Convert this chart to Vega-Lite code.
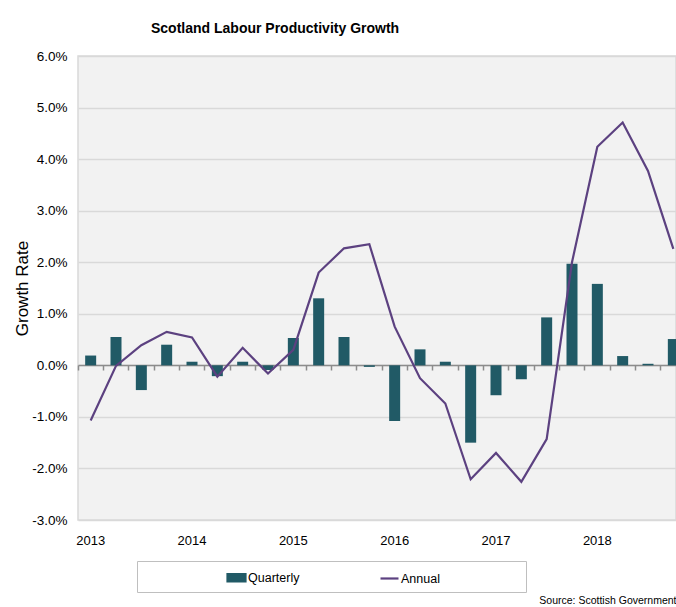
{
  "$schema": "https://vega.github.io/schema/vega-lite/v6.json",
  "width": 598,
  "height": 464,
  "autosize": {"type": "none"},
  "padding": {"left": 78, "top": 56, "right": 0, "bottom": 87},
  "background": "white",
  "title": {
    "text": "Scotland Labour Productivity Growth",
    "anchor": "start",
    "frame": "group",
    "dx": 73,
    "offset": 2,
    "baseline": "alphabetic",
    "font": "Liberation Sans",
    "fontSize": 14,
    "fontWeight": "bold",
    "color": "black"
  },
  "data": {
    "values": [
      {"q": "2013Q1", "quarterly": 0.19, "annual": -1.07},
      {"q": "2013Q2", "quarterly": 0.55, "annual": -0.01},
      {"q": "2013Q3", "quarterly": -0.48, "annual": 0.39},
      {"q": "2013Q4", "quarterly": 0.40, "annual": 0.65},
      {"q": "2014Q1", "quarterly": 0.07, "annual": 0.54},
      {"q": "2014Q2", "quarterly": -0.21, "annual": -0.22},
      {"q": "2014Q3", "quarterly": 0.07, "annual": 0.34},
      {"q": "2014Q4", "quarterly": -0.09, "annual": -0.16},
      {"q": "2015Q1", "quarterly": 0.53, "annual": 0.30},
      {"q": "2015Q2", "quarterly": 1.30, "annual": 1.80},
      {"q": "2015Q3", "quarterly": 0.55, "annual": 2.27},
      {"q": "2015Q4", "quarterly": -0.03, "annual": 2.35},
      {"q": "2016Q1", "quarterly": -1.08, "annual": 0.75},
      {"q": "2016Q2", "quarterly": 0.31, "annual": -0.25},
      {"q": "2016Q3", "quarterly": 0.07, "annual": -0.74},
      {"q": "2016Q4", "quarterly": -1.50, "annual": -2.21},
      {"q": "2017Q1", "quarterly": -0.58, "annual": -1.70},
      {"q": "2017Q2", "quarterly": -0.27, "annual": -2.26},
      {"q": "2017Q3", "quarterly": 0.93, "annual": -1.43},
      {"q": "2017Q4", "quarterly": 1.97, "annual": 2.00},
      {"q": "2018Q1", "quarterly": 1.58, "annual": 4.24},
      {"q": "2018Q2", "quarterly": 0.18, "annual": 4.71},
      {"q": "2018Q3", "quarterly": 0.03, "annual": 3.77},
      {"q": "2018Q4", "quarterly": 0.51, "annual": 2.26}
    ]
  },
  "layer": [
    {
      "mark": {"type": "bar", "size": 11},
      "encoding": {
        "x": {
          "field": "q",
          "type": "ordinal",
          "sort": null,
          "scale": {"range": [0, 608], "paddingInner": 0, "paddingOuter": 0},
          "axis": {
            "orient": "bottom",
            "labelExpr": "indexof(datum.label, 'Q1') >= 0 ? slice(datum.label, 0, 4) : ''",
            "labelAngle": 0,
            "labelOverlap": false,
            "ticks": false,
            "domain": false,
            "grid": false,
            "labelPadding": 14,
            "labelFont": "Liberation Sans",
            "labelFontSize": 13,
            "labelColor": "black",
            "title": "Source: Scottish Government",
            "titleX": 598,
            "titleY": 83,
            "titleAlign": "right",
            "titleAnchor": "end",
            "titleBaseline": "alphabetic",
            "titleFont": "Liberation Sans",
            "titleFontSize": 10.5,
            "titleFontWeight": "normal",
            "titleColor": "black"
          }
        },
        "y": {
          "field": "quarterly",
          "type": "quantitative",
          "scale": {"domain": [-3, 6], "nice": false, "zero": false},
          "axis": {
            "values": [-3, -2, -1, 0, 1, 2, 3, 4, 5, 6],
            "labelExpr": "(datum.value < 0 ? '-' : '') + format(abs(datum.value), '.1f') + '%'",
            "ticks": false,
            "domain": false,
            "labelPadding": 11,
            "labelFont": "Liberation Sans",
            "labelFontSize": 13.5,
            "labelColor": "black",
            "gridColor": "#d9d9d9",
            "gridWidth": 1.5,
            "title": "Growth Rate",
            "titleFont": "Liberation Sans",
            "titleFontSize": 17,
            "titleFontWeight": "normal",
            "titleColor": "black",
            "titleX": -56,
            "titleY": 232,
            "titleAngle": -90,
            "titleAlign": "center",
            "titleBaseline": "middle"
          }
        },
        "color": {
          "datum": "Quarterly",
          "scale": {"domain": ["Quarterly", "Annual"], "range": ["#215a66", "#5c4180"]},
          "legend": {
            "orient": "none",
            "legendX": 59,
            "legendY": 505,
            "direction": "horizontal",
            "title": "000000000000",
            "titleOrient": "left",
            "titlePadding": 0,
            "titleFont": "Liberation Sans",
            "titleFontSize": 12.3,
            "titleFontWeight": "normal",
            "titleColor": "white",
            "padding": 6,
            "strokeColor": "#bfbfbf",
            "fillColor": "white",
            "columnPadding": 76,
            "labelOffset": 1,
            "symbolSize": 324,
            "symbolStrokeWidth": 2.2,
            "labelFont": "Liberation Sans",
            "labelFontSize": 12.5,
            "labelColor": "black",
            "labelLimit": 300,
            "labelExpr": "datum.label === 'Annual' ? 'Annual\u2800\u2800\u2800\u2800\u2800\u2800\u2800\u2800' : datum.label",
            "encode": {
              "symbols": {
                "update": {
                  "shape": {"signal": "datum.value === 'Annual' ? 'stroke' : 'M-1,-0.4H1V0.4H-1Z'"},
                  "fill": {"signal": "datum.value === 'Annual' ? 'transparent' : '#215a66'"},
                  "stroke": {"signal": "datum.value === 'Annual' ? '#5c4180' : 'transparent'"},
                  "strokeWidth": {"value": 2.2},
                  "opacity": {"value": 1}
                }
              }
            }
          }
        }
      }
    },
    {
      "mark": {"type": "line", "strokeWidth": 2.2},
      "encoding": {
        "x": {
          "field": "q",
          "type": "ordinal",
          "sort": null,
          "axis": {
            "orient": "bottom",
            "offset": -155,
            "labels": false,
            "ticks": true,
            "tickSize": 5,
            "tickColor": "#8c8c8c",
            "tickWidth": 1.5,
            "bandPosition": 0,
            "domain": true,
            "domainColor": "#8c8c8c",
            "domainWidth": 1.5,
            "grid": false,
            "title": null
          }
        },
        "y": {
          "field": "annual",
          "type": "quantitative",
          "axis": {
            "values": [-3, -2, -1, 0, 1, 2, 3, 4, 5, 6],
            "labelExpr": "(datum.value < 0 ? '-' : '') + format(abs(datum.value), '.1f') + '%'",
            "ticks": false,
            "domain": false,
            "labelPadding": 11,
            "labelFont": "Liberation Sans",
            "labelFontSize": 13.5,
            "labelColor": "black",
            "gridColor": "#d9d9d9",
            "gridWidth": 1.5,
            "title": "Growth Rate",
            "titleFont": "Liberation Sans",
            "titleFontSize": 17,
            "titleFontWeight": "normal",
            "titleColor": "black",
            "titleX": -56,
            "titleY": 232,
            "titleAngle": -90,
            "titleAlign": "center",
            "titleBaseline": "middle"
          }
        },
        "color": {"datum": "Annual"}
      }
    }
  ],
  "resolve": {"axis": {"x": "independent"}},
  "config": {
    "view": {"stroke": "#d9d9d9", "strokeWidth": 1.5, "fill": "#f2f2f2"},
    "font": "Liberation Sans"
  }
}
